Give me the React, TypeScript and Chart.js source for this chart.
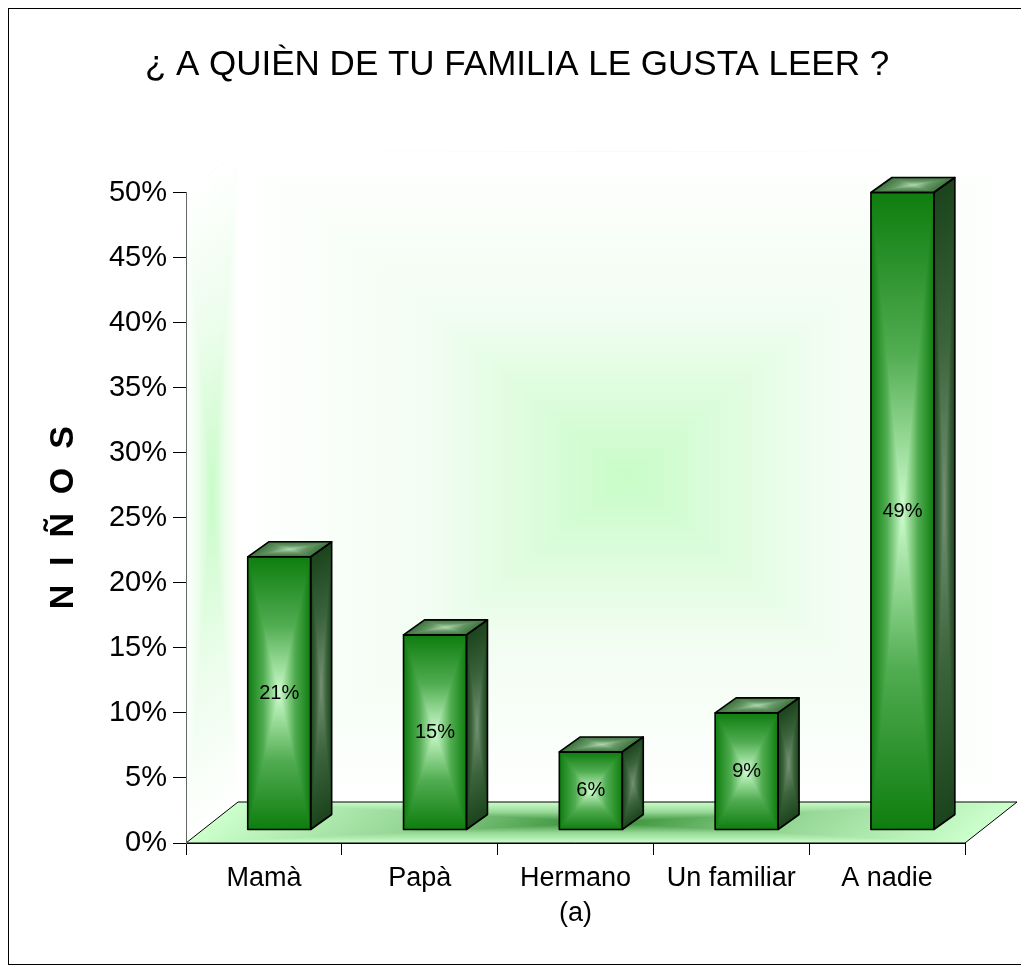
import React, { useEffect, useRef } from 'react';
import { Chart, registerables } from 'chart.js';

Chart.register(...registerables);

// ---- data ----
const categories: (string | string[])[] = ['Mamà', 'Papà', ['Hermano', '(a)'], 'Un familiar', 'A nadie'];
const values = [0.21, 0.15, 0.06, 0.09, 0.49];
const valueLabels = ['21%', '15%', '6%', '9%', '49%'];
const yTickValues = [0, 0.05, 0.1, 0.15, 0.2, 0.25, 0.3, 0.35, 0.4, 0.45, 0.5];
const yTickLabels = ['0%', '5%', '10%', '15%', '20%', '25%', '30%', '35%', '40%', '45%', '50%'];
const chartTitle = '¿ A QUIÈN DE TU FAMILIA LE GUSTA LEER ?';
const yAxisTitle = 'N  I  Ñ  O  S';

// ---- style ----
const FONT = "'Liberation Sans', Arial, sans-serif";
const FLOOR_DX = 52;
const FLOOR_DY = -41;
const BAR_OFF_X = 15.3;
const BAR_OFF_Y = -13;
const BAR_DX = 21;
const BAR_DY = -15;

type P = { x: number; y: number };

function rectGrad(ctx: CanvasRenderingContext2D, o: P, u: P, v: P, edge: string, mid: string, center: string) {
  ctx.save();
  ctx.transform(u.x, u.y, v.x, v.y, o.x, o.y);
  let g = ctx.createLinearGradient(0, 0, 1, 0);
  g.addColorStop(0, edge);
  g.addColorStop(0.25, mid);
  g.addColorStop(0.5, center);
  g.addColorStop(0.75, mid);
  g.addColorStop(1, edge);
  ctx.fillStyle = g;
  ctx.fillRect(0, 0, 1, 1);
  g = ctx.createLinearGradient(0, 0, 0, 1);
  g.addColorStop(0, edge);
  g.addColorStop(0.25, mid);
  g.addColorStop(0.5, center);
  g.addColorStop(0.75, mid);
  g.addColorStop(1, edge);
  ctx.fillStyle = g;
  ctx.beginPath();
  ctx.moveTo(0, 0);
  ctx.lineTo(1, 0);
  ctx.lineTo(0.5, 0.5);
  ctx.closePath();
  ctx.fill();
  ctx.beginPath();
  ctx.moveTo(0, 1);
  ctx.lineTo(1, 1);
  ctx.lineTo(0.5, 0.5);
  ctx.closePath();
  ctx.fill();
  ctx.restore();
}

function strokePoly(ctx: CanvasRenderingContext2D, pts: P[], color: string, lw: number) {
  ctx.save();
  ctx.strokeStyle = color;
  ctx.lineWidth = lw;
  ctx.lineJoin = 'round';
  ctx.beginPath();
  pts.forEach((p, i) => (i === 0 ? ctx.moveTo(p.x, p.y) : ctx.lineTo(p.x, p.y)));
  ctx.closePath();
  ctx.stroke();
  ctx.restore();
}

const scenePlugin = {
  id: 'scene3d',
  beforeDraw(chart: any) {
    const { ctx, chartArea } = chart;
    const { left, right, top, bottom } = chartArea;
    const w = right - left;
    const h = top - bottom;
    // back wall
    rectGrad(ctx, { x: left + FLOOR_DX, y: bottom + FLOOR_DY }, { x: w, y: 0 }, { x: 0, y: h },
      'rgb(255,255,255)', 'rgb(242,253,242)', 'rgb(200,252,200)');
    // left wall
    rectGrad(ctx, { x: left, y: bottom }, { x: FLOOR_DX, y: FLOOR_DY }, { x: 0, y: h },
      'rgb(255,255,255)', 'rgb(235,253,235)', 'rgb(200,252,200)');
    // floor
    rectGrad(ctx, { x: left, y: bottom }, { x: w, y: 0 }, { x: FLOOR_DX, y: FLOOR_DY },
      'rgb(204,255,204)', 'rgb(150,215,150)', 'rgb(50,140,50)');
    strokePoly(ctx, [
      { x: left, y: bottom },
      { x: right, y: bottom },
      { x: right + FLOOR_DX, y: bottom + FLOOR_DY },
      { x: left + FLOOR_DX, y: bottom + FLOOR_DY },
    ], '#000', 1);
  },
  afterDatasetsDraw(chart: any) {
    const { ctx } = chart;
    const meta = chart.getDatasetMeta(0);
    meta.data.forEach((el: any, i: number) => {
      const { x, y, base, width } = el.getProps(['x', 'y', 'base', 'width'], true);
      const fl = x - width / 2 + BAR_OFF_X;
      const fr = fl + width;
      const fb = base + BAR_OFF_Y;
      const ft = y + BAR_OFF_Y;
      const hh = ft - fb;
      // front
      rectGrad(ctx, { x: fl, y: fb }, { x: width, y: 0 }, { x: 0, y: hh },
        'rgb(14,125,14)', 'rgb(80,172,80)', 'rgb(205,252,205)');
      // side
      rectGrad(ctx, { x: fr, y: fb }, { x: BAR_DX, y: BAR_DY }, { x: 0, y: hh },
        'rgb(28,68,28)', 'rgb(60,100,60)', 'rgb(115,145,115)');
      // top
      rectGrad(ctx, { x: fl, y: ft }, { x: width, y: 0 }, { x: BAR_DX, y: BAR_DY },
        'rgb(60,115,60)', 'rgb(100,150,100)', 'rgb(175,215,175)');
      const lw = 1.6;
      strokePoly(ctx, [{ x: fl, y: fb }, { x: fr, y: fb }, { x: fr, y: ft }, { x: fl, y: ft }], '#000', lw);
      strokePoly(ctx, [{ x: fr, y: fb }, { x: fr + BAR_DX, y: fb + BAR_DY }, { x: fr + BAR_DX, y: ft + BAR_DY }, { x: fr, y: ft }], '#000', lw);
      strokePoly(ctx, [{ x: fl, y: ft }, { x: fr, y: ft }, { x: fr + BAR_DX, y: ft + BAR_DY }, { x: fl + BAR_DX, y: ft + BAR_DY }], '#000', lw);
      ctx.save();
      ctx.fillStyle = '#000';
      ctx.font = `20px ${FONT}`;
      ctx.textAlign = 'center';
      ctx.textBaseline = 'middle';
      ctx.fillText(valueLabels[i], fl + width / 2, (fb + ft) / 2);
      ctx.restore();
    });
  },
};

export default function App() {
  const ref = useRef<HTMLCanvasElement | null>(null);
  useEffect(() => {
    if (!ref.current) return;
    const chart = new Chart(ref.current, {
      type: 'bar',
      data: {
        labels: categories as any,
        datasets: [
          {
            data: values,
            backgroundColor: 'rgba(0,0,0,0)',
            borderWidth: 0,
            categoryPercentage: 1,
            barPercentage: 0.404,
          },
        ],
      },
      options: {
        responsive: false,
        animation: false,
        events: [],
        layout: { padding: { left: 0, right: 0, top: 0, bottom: 0 } },
        plugins: {
          legend: { display: false },
          tooltip: { enabled: false },
          title: {
            display: true,
            text: chartTitle,
            color: '#000',
            font: { family: FONT, size: 35, weight: 'normal' },
            padding: { top: 35, bottom: 106.5 },
          },
        },
        scales: {
          x: {
            offset: true,
            grid: { display: true, drawOnChartArea: false, offset: true, tickLength: 12, color: '#000', lineWidth: 1 },
            border: { color: '#000', width: 1 },
            ticks: { color: '#000', font: { family: FONT, size: 27, lineHeight: 1.3 }, padding: 6, maxRotation: 0, autoSkip: false },
            afterFit: (s: any) => {
              s.height = 121;
            },
          },
          y: {
            min: 0,
            max: 0.5,
            afterBuildTicks: (s: any) => {
              s.ticks = yTickValues.map((v) => ({ value: v }));
            },
            ticks: {
              color: '#000',
              font: { family: FONT, size: 29 },
              padding: 6,
              callback: (_v: any, i: number) => yTickLabels[i],
            },
            grid: { drawOnChartArea: false, tickLength: 13, color: '#000', lineWidth: 1 },
            border: { color: '#666', width: 1 },
            title: {
              display: true,
              text: yAxisTitle,
              color: '#000',
              font: { family: FONT, size: 34, weight: 'bold' },
              padding: { top: 34.6, bottom: 0 },
            },
            afterFit: (s: any) => {
              s.width = 177;
            },
          },
          spacer: {
            type: 'linear',
            position: 'right',
            display: true,
            grid: { display: false },
            border: { display: false },
            ticks: { display: false },
            afterFit: (s: any) => {
              s.width = 60;
            },
          },
        },
      },
      plugins: [scenePlugin],
    });
    return () => chart.destroy();
  }, []);
  return (
    <div style={{ width: 1016, height: 955, border: '1px solid #000' }}>
      <canvas ref={ref} width={1016} height={955} style={{ display: 'block', width: 1016, height: 955 }} />
    </div>
  );
}
